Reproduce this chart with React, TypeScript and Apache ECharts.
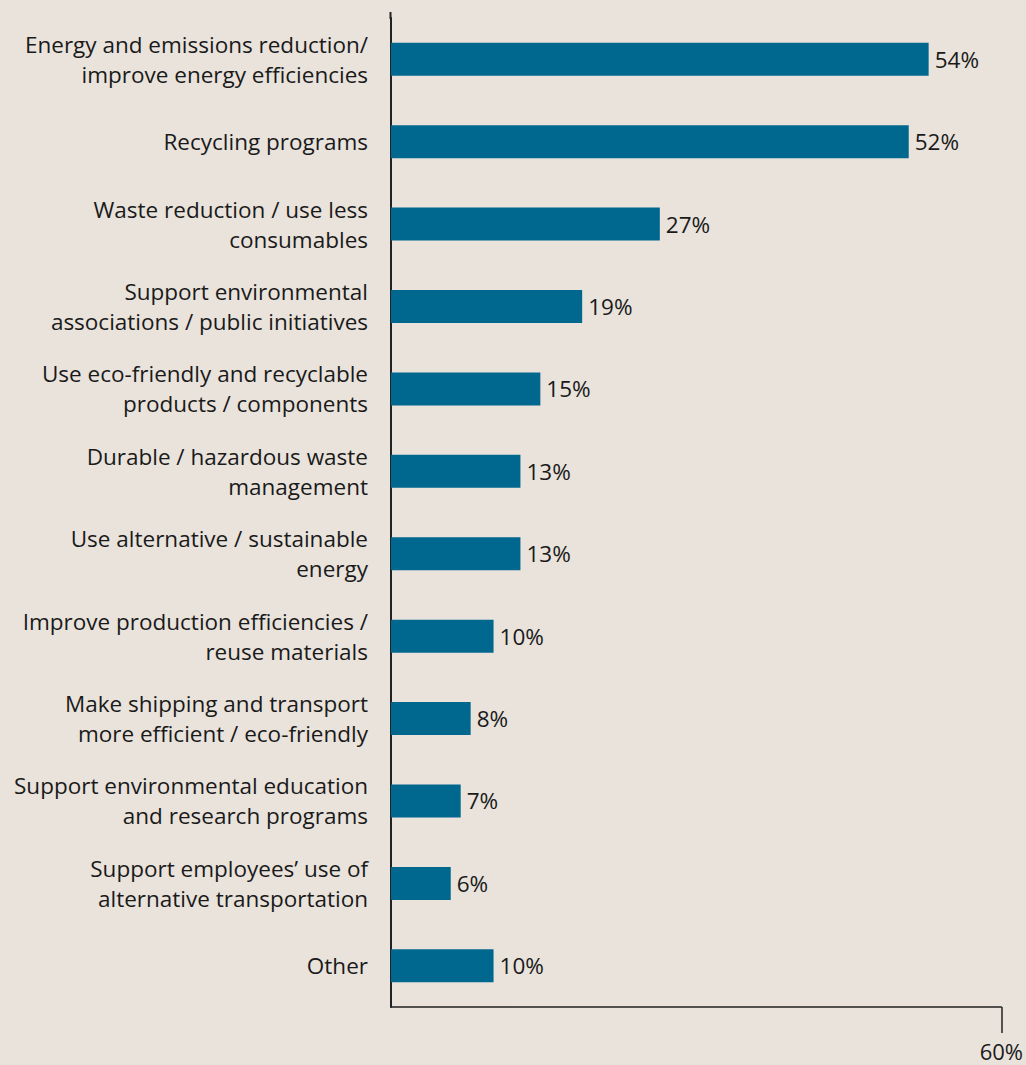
import React, { useEffect, useRef } from "react";
import * as echarts from "echarts";

const categories = [
  "Energy and emissions reduction/\nimprove energy efficiencies",
  "Recycling programs",
  "Waste reduction / use less\nconsumables",
  "Support environmental\nassociations / public initiatives",
  "Use eco-friendly and recyclable\nproducts / components",
  "Durable / hazardous waste\nmanagement",
  "Use alternative / sustainable\nenergy",
  "Improve production efficiencies /\nreuse materials",
  "Make shipping and transport\nmore efficient / eco-friendly",
  "Support environmental education\nand research programs",
  "Support employees’ use of\nalternative transportation",
  "Other",
];
const values = [54, 52, 27, 19.2, 15, 13, 13, 10.3, 8, 7, 6, 10.3];
const valueLabels = ["54%", "52%", "27%", "19%", "15%", "13%", "13%", "10%", "8%", "7%", "6%", "10%"];
const axisMax = 61.3;
const axisEndLabel = "60%";

const FONT = "'Open Sans', sans-serif";

export default function App() {
  const ref = useRef<HTMLDivElement>(null);
  useEffect(() => {
    if (!ref.current) return;
    const chart = echarts.init(ref.current, undefined, { renderer: "svg" });
    chart.setOption({
      animation: false,
      backgroundColor: "#e9e3dc",
      grid: { left: 391, top: 18, width: 611, height: 989, containLabel: false },
      xAxis: {
        type: "value",
        min: 0,
        max: axisMax,
        interval: axisMax,
        axisLine: { show: true, lineStyle: { color: "#222", width: 1.5 } },
        axisTick: { show: true, customValues: [axisMax], length: 26, lineStyle: { color: "#222", width: 1.5 } },
        axisLabel: {
          show: true,
          customValues: [axisMax],
          formatter: () => axisEndLabel,
          margin: 33,
          fontFamily: FONT,
          fontSize: 22,
          color: "#1a1a1a",
        },
        splitLine: { show: false },
      },
      yAxis: {
        type: "category",
        inverse: true,
        data: categories,
        axisLine: { show: true, lineStyle: { color: "#222", width: 2 } },
        axisTick: { show: false },
        axisLabel: {
          margin: 23,
          fontFamily: FONT,
          fontSize: 22.5,
          lineHeight: 30,
          color: "#1a1a1a",
          align: "right",
        },
      },
      graphic: [
        {
          type: "line",
          shape: { x1: 390.5, y1: 12, x2: 390.5, y2: 19 },
          style: { stroke: "#222", lineWidth: 2 },
        },
      ],
      series: [
        {
          type: "bar",
          data: values,
          barWidth: 33,
          itemStyle: { color: "#00678f" },
          label: {
            show: true,
            position: "right",
            distance: 6,
            formatter: (p: any) => valueLabels[p.dataIndex],
            fontFamily: FONT,
            fontSize: 22.5,
            color: "#1a1a1a",
          },
        },
      ],
    });
    return () => chart.dispose();
  }, []);
  return <div ref={ref} style={{ width: 1026, height: 1065, position: "absolute", left: 0, top: 0 }} />;
}
